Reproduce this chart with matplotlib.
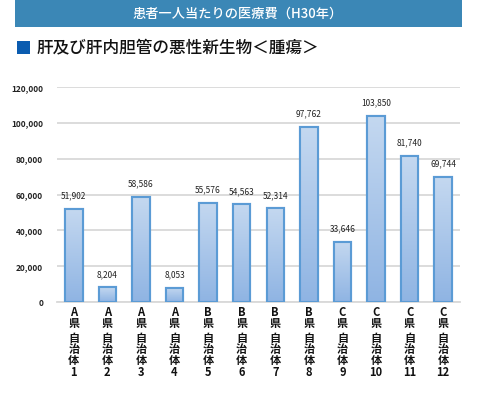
import matplotlib
matplotlib.use("Agg")
import matplotlib.pyplot as plt
import numpy as np
from matplotlib.patches import Rectangle
from matplotlib.colors import LinearSegmentedColormap

plt.rcParams['font.family'] = ['Noto Sans CJK JP', 'DejaVu Sans']

title = "患者一人当たりの医療費（H30年）"
subtitle = "肝及び肝内胆管の悪性新生物＜腫瘍＞"
prefs = ["A", "A", "A", "A", "B", "B", "B", "B", "C", "C", "C", "C"]
nums = ["1", "2", "3", "4", "5", "6", "7", "8", "9", "10", "11", "12"]
values = [51902, 8204, 58586, 8053, 55576, 54563, 52314, 97762, 33646, 103850, 81740, 69744]
yticks = [0, 20000, 40000, 60000, 80000, 100000, 120000]

W, H = 480, 397
fig = plt.figure(figsize=(W / 100, H / 100), dpi=100)

# Banner
fig.patches.append(Rectangle((15 / W, 1 - 27 / H), 447 / W, 27 / H, transform=fig.transFigure,
                             facecolor="#3b87b6", edgecolor="none"))
fig.text(238 / W, 1 - 14 / H, title, color="white", fontsize=9.5, ha="center", va="center",
         fontweight="medium")

# Subtitle
fig.patches.append(Rectangle((17 / W, 1 - 54 / H), 13 / W, 13 / H, transform=fig.transFigure,
                             facecolor="#0b5cb0", edgecolor="none"))
fig.text(37 / W, 1 - 47.5 / H, subtitle, color="#111111", fontsize=12, ha="left", va="center",
         fontweight="medium")

ax = fig.add_axes([57 / W, 1 - 302 / H, 403 / W, (302 - 87.3) / H])
x = np.arange(len(values))
bars = ax.bar(x, values, width=0.52, color="#a9c6e9", edgecolor="#5b9bd5", linewidth=1.5, zorder=3)

# gradient fill
grad = np.linspace(0, 1, 256).reshape(-1, 1)
cmap = LinearSegmentedColormap.from_list("g", ["#8fb4e3", "#c4d8f0"])
for b in bars:
    bx, by = b.get_x(), b.get_y()
    bw, bh = b.get_width(), b.get_height()
    im = ax.imshow(grad, extent=[bx, bx + bw, by, by + bh], origin="lower", cmap=cmap,
                   aspect="auto", zorder=3.5)
    im.set_clip_path(b)
    ax.add_patch(Rectangle((bx, by), bw, bh, facecolor="none", edgecolor="#5b9bd5",
                           linewidth=1.5, zorder=4))

for xi, v in zip(x, values):
    ax.annotate(f"{v:,}", (xi, v), xytext=(0, 13), textcoords="offset pixels",
                ha="center", va="center", fontsize=6, color="#222222")

ax.set_xlim(-0.5, len(values) - 0.5)
ax.set_ylim(0, 120000)
ax.set_yticks(yticks)
ax.set_yticklabels([f"{t:,}" for t in yticks], fontsize=6, color="#222222", fontweight="bold")
ax.tick_params(axis="y", length=0, pad=10)
ax.set_xticks([])
ax.grid(axis="y", color="#d9d9d9", linewidth=1.3, zorder=0)
for s in ["top", "right", "left"]:
    ax.spines[s].set_visible(False)
ax.spines["bottom"].set_color("#d9d9d9")
ax.spines["bottom"].set_linewidth(1.3)

for xi, p, n in zip(x, prefs, nums):
    ax.annotate(p + "\n県", (xi, 0), xytext=(0, -4), textcoords="offset pixels", ha="center", va="top",
                fontsize=8, fontweight="bold", color="#111111", linespacing=0.82, annotation_clip=False)
    ax.annotate("自\n治\n体\n" + n, (xi, 0), xytext=(0, -30), textcoords="offset pixels", ha="center",
                va="top", fontsize=8, fontweight="bold", color="#111111", linespacing=0.82,
                annotation_clip=False)

fig.savefig("out.png", dpi=100)
